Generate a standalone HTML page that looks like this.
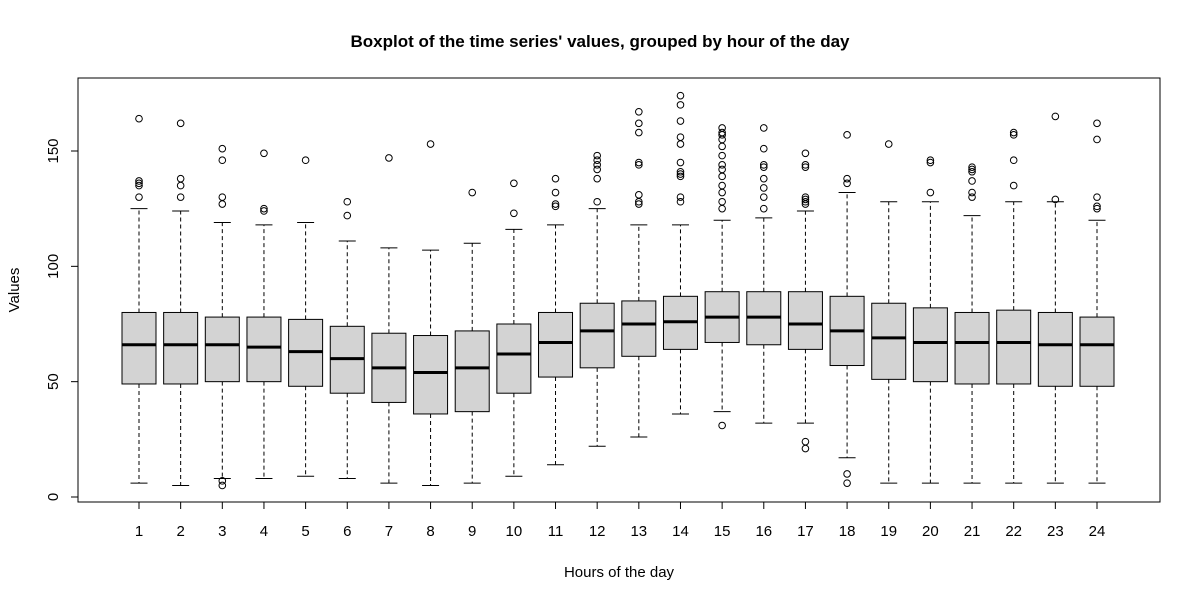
<!DOCTYPE html>
<html><head><meta charset="utf-8"><style>body{margin:0;background:#fff}svg{display:block;font-family:"Liberation Sans",Arial,sans-serif}</style></head>
<body>
<svg id="c" width="1200" height="600"></svg>
<script>
const hours=[1,2,3,4,5,6,7,8,9,10,11,12,13,14,15,16,17,18,19,20,21,22,23,24];
const q1=[49,49,50,50,48,45,41,36,37,45,52,56,61,64,67,66,64,57,51,50,49,49,48,48];
const med=[66,66,66,65,63,60,56,54,56,62,67,72,75,76,78,78,75,72,69,67,67,67,66,66];
const q3=[80,80,78,78,77,74,71,70,72,75,80,84,85,87,89,89,89,87,84,82,80,81,80,78];
const whLo=[6,5,8,8,9,8,6,5,6,9,14,22,26,36,37,32,32,17,6,6,6,6,6,6];
const whHi=[125,124,119,118,119,111,108,107,110,116,118,125,118,118,120,121,124,132,128,128,122,128,128,120];
const outliers=[[164,137,136,135,130],[162,138,135,130],[151,146,130,127,7,5],[149,125,124],[146],[128,122],[147],[153],[132],[136,123],[138,132,127,126],[148,146,144,142,138,128],[167,162,158,145,144,131,128,127],[174,170,163,156,153,145,141,140,139,130,128],[160,158,157,155,152,148,144,142,139,135,132,128,125,31],[160,151,144,143,138,134,130,125],[149,144,143,130,129,128,127,24,21],[157,138,136,10,6],[153],[146,145,132],[143,142,141,137,132,130],[158,157,146,135],[165,129],[162,155,130,126,125]];
const yTicks=[0,50,100,150];
const NS='http://www.w3.org/2000/svg';
const svg=document.getElementById('c');
const X=h=>139+(h-1)*(1097-139)/23;
const Y=v=>497-v*(346/150);
function mk(t,a,p){const e=document.createElementNS(NS,t);for(const k in a)e.setAttribute(k,a[k]);(p||svg).appendChild(e);return e;}
let e;
e=mk('text',{x:600,y:47,'text-anchor':'middle','font-size':17,'font-weight':'bold'});e.textContent="Boxplot of the time series' values, grouped by hour of the day";


e=mk('rect',{x:78,y:78,width:1082,height:424,fill:'none',stroke:'#000','stroke-width':1});


yTicks.forEach(v=>{mk('line',{x1:71,x2:78,y1:Y(v),y2:Y(v),stroke:'#000'});
 const t=mk('text',{x:54,y:Y(v),'text-anchor':'middle','font-size':15,transform:`rotate(-90 54 ${Y(v)})`,'dominant-baseline':'middle'});t.textContent=v;
 
 });
mk('line',{x1:78,x2:78,y1:Y(0),y2:Y(150),stroke:'#000'});
mk('line',{x1:X(1),x2:X(24),y1:502,y2:502,stroke:'#000'});
hours.forEach((h,i)=>{const x=X(h);
 mk('line',{x1:x,x2:x,y1:502,y2:509,stroke:'#000'});
 const t=mk('text',{x:x,y:536,'text-anchor':'middle','font-size':15});t.textContent=h;
 
 
 const g=mk('g',{});
 
 
 mk('line',{x1:x,x2:x,y1:Y(q3[i]),y2:Y(whHi[i]),stroke:'#000','stroke-dasharray':'4,3'},g);
 mk('line',{x1:x,x2:x,y1:Y(q1[i]),y2:Y(whLo[i]),stroke:'#000','stroke-dasharray':'4,3'},g);
 mk('line',{x1:x-8.5,x2:x+8.5,y1:Y(whHi[i]),y2:Y(whHi[i]),stroke:'#000'},g);
 mk('line',{x1:x-8.5,x2:x+8.5,y1:Y(whLo[i]),y2:Y(whLo[i]),stroke:'#000'},g);
 mk('rect',{x:x-17,y:Y(q3[i]),width:34,height:Y(q1[i])-Y(q3[i]),fill:'#d3d3d3',stroke:'#000'},g);
 mk('line',{x1:x-17,x2:x+17,y1:Y(med[i]),y2:Y(med[i]),stroke:'#000','stroke-width':3},g);
 outliers[i].forEach(v=>{mk('circle',{cx:x,cy:Y(v),r:3.3,fill:'none',stroke:'#000'},g);});
});
e=mk('text',{x:619,y:577,'text-anchor':'middle','font-size':15});e.textContent='Hours of the day';


e=mk('text',{x:19,y:290,'text-anchor':'middle','font-size':15,transform:'rotate(-90 19 290)'});e.textContent='Values';


</script>
</body></html>
